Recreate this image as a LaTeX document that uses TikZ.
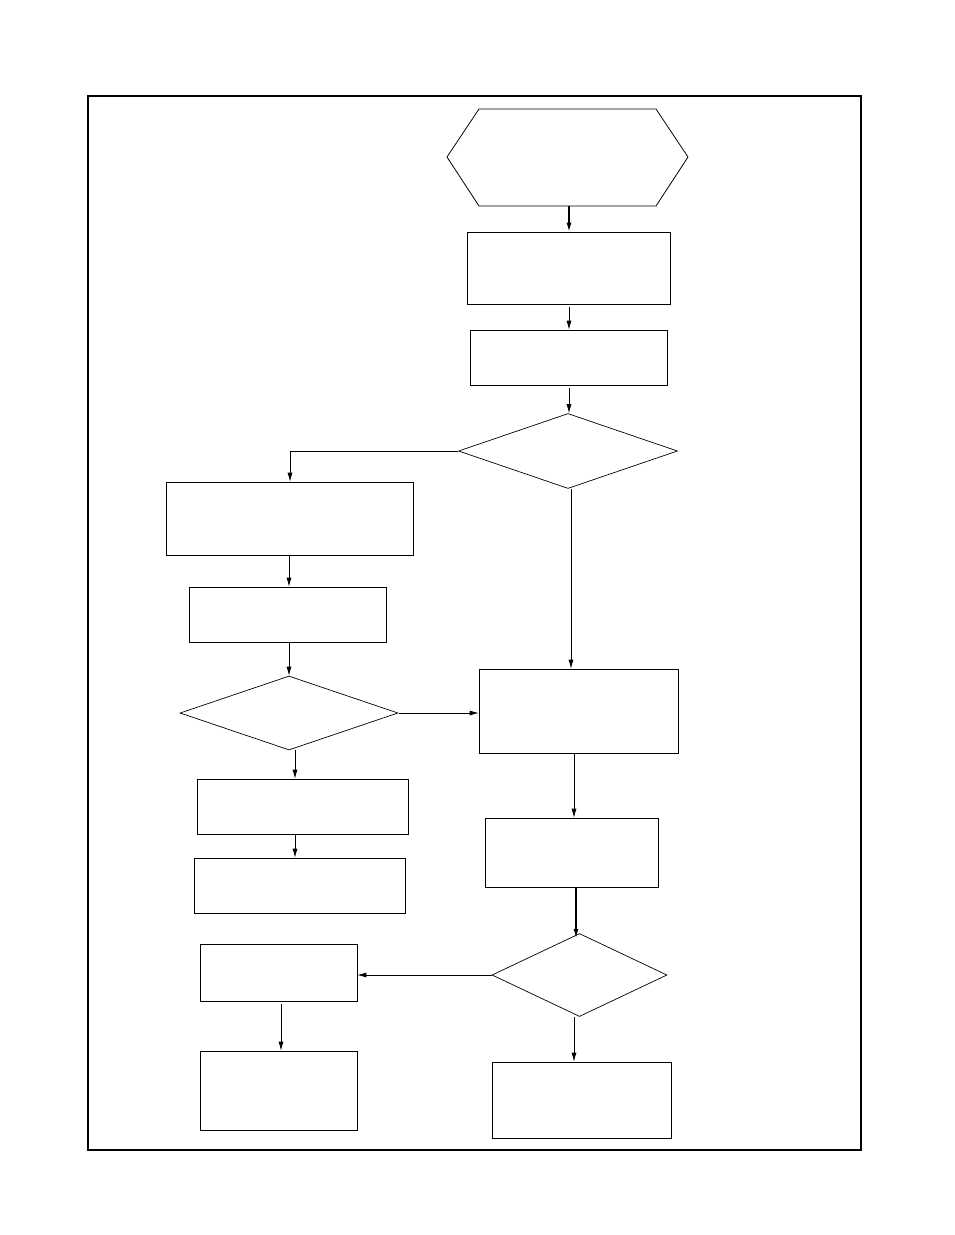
\documentclass[tikz,border=0pt]{standalone}
\usetikzlibrary{shapes.geometric,arrows.meta}
\begin{document}
\begin{tikzpicture}[x=1pt,y=-1pt,
 bx/.style={draw,line width=0.7pt,inner sep=0,minimum width=#1},
 dm/.style={draw,diamond,line width=0.7pt,inner sep=0},
 arr/.style={-{Latex[length=9pt,width=5pt]},line width=0.7pt}]
\useasboundingbox (0,0) rectangle (954,1235);
\draw[line width=1.5pt] (88,96) rectangle (861,1150);
\draw[line width=0.8pt] (447,157)--(479,109)--(656,109)--(688,157)--(656,206)--(479,206)--cycle;
\coordinate (hexb) at (569,206);
\node[bx=203pt,minimum height=72pt] (b1) at (568.5,268) {};
\node[bx=197pt,minimum height=55pt] (b2) at (568.5,357.5) {};
\node[dm,minimum width=219pt,minimum height=75pt] (d1) at (568,451) {};
\node[bx=247pt,minimum height=73pt] (l1) at (289.5,518.5) {};
\node[bx=197pt,minimum height=55pt] (l2) at (287.5,614.5) {};
\node[dm,minimum width=218pt,minimum height=74pt] (d2) at (289,713) {};
\node[bx=211pt,minimum height=55pt] (l3) at (302.5,806.5) {};
\node[bx=211pt,minimum height=55pt] (l4) at (299.5,885.5) {};
\node[bx=199pt,minimum height=84pt] (r1) at (578.5,711) {};
\node[bx=173pt,minimum height=69pt] (r2) at (571.5,852.5) {};
\node[dm,minimum width=175pt,minimum height=83pt] (d3) at (579.5,975) {};
\node[bx=157pt,minimum height=57pt] (l5) at (278.5,972.5) {};
\node[bx=157pt,minimum height=79pt] (l6) at (278.5,1090.5) {};
\node[bx=179pt,minimum height=76pt] (r3) at (581.5,1100) {};
\draw[arr,line width=1.3pt] (hexb) -- (b1.north-|hexb);
\draw[arr] (569,307) -- (b2.north-|569,0);
\draw[arr] (569,388) -- (d1.north-|569,0);
\draw[arr] (d1.west) -| (l1.north-|290,0);
\draw[arr] (d1.south-|571,0) -- (r1.north-|571,0);
\draw[arr] (l1.south-|289,0) -- (l2.north-|289,0);
\draw[arr] (l2.south-|289,0) -- (d2.north);
\draw[arr] (399,713) -- (r1.west|-0,713);
\draw[arr] (295,750) -- (l3.north-|295,0);
\draw[arr] (l3.south-|295,0) -- (l4.north-|295,0);
\draw[arr] (r1.south-|574,0) -- (r2.north-|574,0);
\draw[arr,line width=1.3pt] (r2.south-|576,0) -- (576,938);
\draw[arr] (d3.west) -- (l5.east|-d3.west);
\draw[arr] (281,1004) -- (l6.north-|281,0);
\draw[arr] (d3.south-|574,0) -- (r3.north-|574,0);
\end{tikzpicture}
\end{document}
